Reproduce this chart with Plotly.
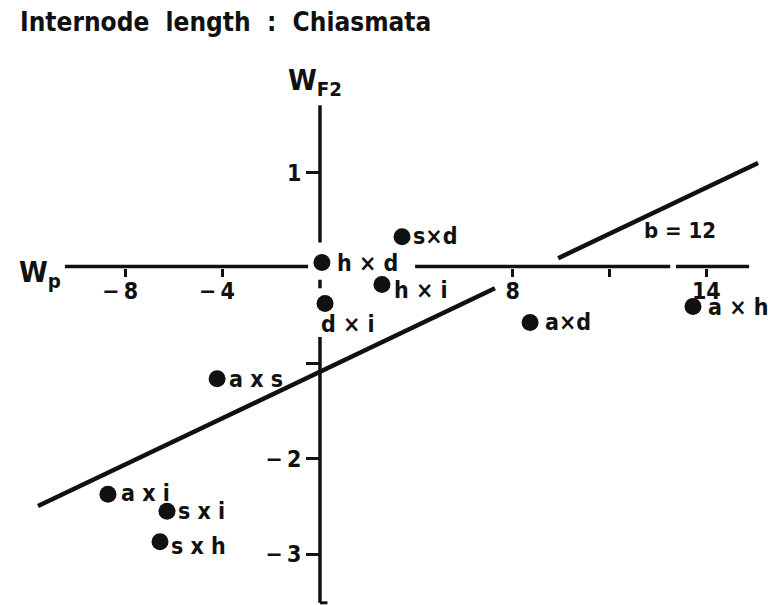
import plotly.graph_objects as go

# ---- data -------------------------------------------------------------
crosses = ["h × d", "d × i", "h × i", "s×d", "a×d", "a × h",
           "a x s", "a x i", "s x i", "s x h"]
wp = [0.12, 0.25, 2.6, 3.43, 8.72, 13.45, -4.21, -8.72, -6.28, -6.57]
wf2 = [0.06, -0.37, -0.17, 0.33, -0.57, -0.40, -1.16, -2.37, -2.55, -2.87]

x_tick_values = [-8, -4, 8, 12, 14]
x_tick_text = ["−\u20098\u2002", "−\u20094\u2002", "8", "", "14"]
y_tick_values = [1, -1, -2, -3]
y_tick_text = ["1", "", "−\u20092", "−\u20093"]

# regression of WF2 on Wp
intercept = -1.09
slope = 0.121
slope_label = "b = 12"

# ---- styling ----------------------------------------------------------
INK = "#111111"
FONT = "Liberation Sans Narrow, DejaVu Sans Condensed, Liberation Sans, Arial, sans-serif"
W, H = 768, 605

# the Wp axis is broken between 12 and 14
BREAK_AT, BREAK_SHIFT = 13, 2


def to_axis(v):
    return v + BREAK_SHIFT if v > BREAK_AT else v


X_RANGE = [-13.18, 18.55]
Y_RANGE = [-3.533, 2.815]

# label placement next to each dot (pixels)
label_offsets = [(13, 0), (-6, -20), (10, -6), (9, 1), (13, 1), (13, -1),
                 (10, 0), (11, 1), (9, 0), (9, -4)]

# visible pieces of the axis lines (axis units)
x_axis_pieces = [(-10.5, -0.45), (3.97, 14.51), (14.75, 17.77)]
y_axis_pieces = [(1.71, 0.27), (-0.12, -0.21), (-0.72, -3.51)]
# visible pieces of the regression line (axis units)
fit_pieces = [(-11.61, 7.27), (9.88, 18.14)]

fig = go.Figure()

for x0, x1 in fit_pieces:
    fig.add_trace(go.Scatter(
        x=[x0, x1], y=[intercept + slope * x0, intercept + slope * x1],
        mode="lines", line=dict(color=INK, width=4.5),
        hoverinfo="skip", showlegend=False))

fig.add_trace(go.Scatter(
    x=[to_axis(v) for v in wp], y=wf2, mode="markers",
    marker=dict(size=17, color=INK), text=crosses,
    hoverinfo="text", showlegend=False))

shapes = []
for x0, x1 in x_axis_pieces:
    shapes.append(dict(type="line", xref="x", yref="y", x0=x0, x1=x1, y0=0.02, y1=0.02,
                       line=dict(color=INK, width=3.5)))
for y0, y1 in y_axis_pieces:
    shapes.append(dict(type="line", xref="x", yref="y", x0=0.04, x1=0.04, y0=y0, y1=y1,
                       line=dict(color=INK, width=3.5)))
shapes.append(dict(type="line", xref="x", yref="y", x0=0.04, x1=0.35, y0=-3.51, y1=-3.51,
                   line=dict(color=INK, width=3)))

annotations = []
for name, xv, yv, (dx, dy) in zip(crosses, wp, wf2, label_offsets):
    annotations.append(dict(
        x=to_axis(xv), y=yv, xref="x", yref="y", text=name, showarrow=False,
        xanchor="left", yanchor="middle", xshift=dx, yshift=dy,
        font=dict(family=FONT, size=23, color=INK, weight="bold")))

annotations.append(dict(
    x=14.9, y=0.40, xref="x", yref="y", text=slope_label, showarrow=False,
    xanchor="center", yanchor="middle",
    font=dict(family=FONT, size=22, color=INK, weight="bold")))

annotations.append(dict(
    x=17 / W, y=1 - 274 / H, xref="paper", yref="paper", text="W<sub>p</sub>",
    showarrow=False, xanchor="left", yanchor="middle",
    font=dict(family=FONT, size=29, color=INK, weight="bold")))
annotations.append(dict(
    x=286 / W, y=1 - 82 / H, xref="paper", yref="paper", text="W<sub>F2</sub>",
    showarrow=False, xanchor="left", yanchor="middle",
    font=dict(family=FONT, size=29, color=INK, weight="bold")))

fig.update_layout(
    width=W, height=H, autosize=False,
    margin=dict(l=0, r=0, t=0, b=0),
    paper_bgcolor="white", plot_bgcolor="white",
    title=dict(text="Internode  length  :  Chiasmata", x=20 / W, xanchor="left",
               y=1 - 22 / H, yanchor="middle", xref="paper", yref="paper",
               font=dict(family=FONT, size=26, color=INK, weight="bold")),
    shapes=shapes, annotations=annotations,
    xaxis=dict(range=X_RANGE, anchor="free", position=(H - 268) / H,
               showline=False, showgrid=False, zeroline=False,
               tickmode="array", tickvals=[to_axis(v) for v in x_tick_values],
               ticktext=x_tick_text, ticks="outside", ticklen=8, tickwidth=3,
               tickcolor=INK, ticklabelstandoff=-6,
               tickfont=dict(family=FONT, size=23, color=INK, weight="bold")),
    yaxis=dict(range=Y_RANGE, anchor="free", position=319 / W, side="left",
               showline=False, showgrid=False, zeroline=False,
               tickmode="array", tickvals=y_tick_values, ticktext=y_tick_text,
               ticks="outside", ticklen=13, tickwidth=3, tickcolor=INK,
               tickfont=dict(family=FONT, size=23, color=INK, weight="bold")),
)

fig.write_html("out.html")
